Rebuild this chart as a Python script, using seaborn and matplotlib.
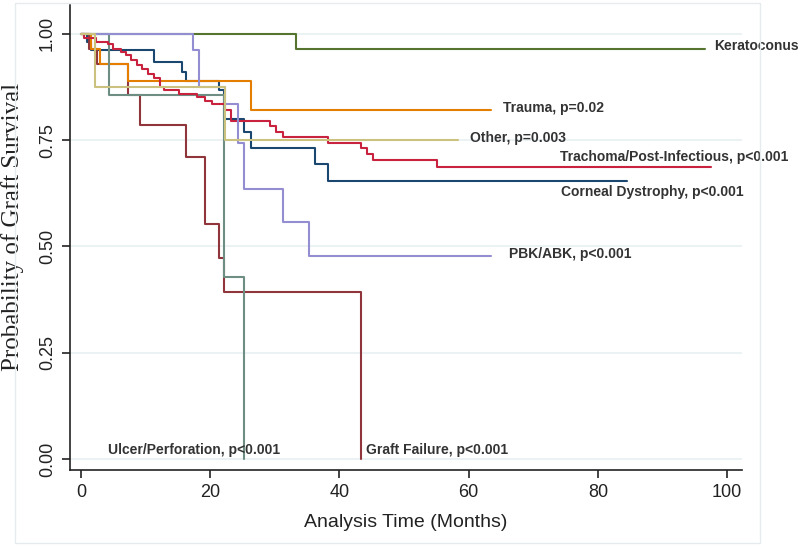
import matplotlib
matplotlib.use("Agg")
import pandas as pd
import matplotlib.pyplot as plt
import seaborn as sns
from matplotlib.patches import Rectangle

# Kaplan-Meier steps (time in months, survival probability)
dystrophy_t = [0, 1.0, 1.6, 11.3, 15.7, 16.3, 21.3, 22.2, 25.3, 26.3, 36.2, 38.3, 84.5]
dystrophy_s = [1.0, 0.980, 0.961, 0.935, 0.911, 0.890, 0.868, 0.799, 0.770, 0.731, 0.694, 0.654, 0.654]

graft_t = [0, 1.3, 2.5, 7.2, 9.2, 16.3, 19.2, 21.3, 22.1, 43.3]
graft_s = [1.0, 0.964, 0.929, 0.857, 0.786, 0.711, 0.552, 0.473, 0.393, 0.0]

kerato_t = [0, 33.3, 96.5]
kerato_s = [1.0, 0.965, 0.965]

trauma_t = [0, 1.6, 3.0, 7.3, 26.3, 63.4]
trauma_s = [1.0, 0.964, 0.929, 0.889, 0.821, 0.821]

ulcer_t = [0, 4.3, 22.1, 25.2]
ulcer_s = [1.0, 0.857, 0.429, 0.0]

trachoma_t = [0, 0.5, 2.3, 4.2, 5.0, 6.2, 7.0, 7.8, 8.6, 9.4, 10.3, 11.3, 12.2, 12.8,
              15.2, 18.0, 19.2, 20.2, 22.3, 23.2, 29.3, 30.2, 31.3, 38.3, 43.3, 44.2,
              45.2, 55.1, 97.5]
trachoma_s = [1.0, 0.990, 0.982, 0.976, 0.964, 0.958, 0.951, 0.939, 0.927, 0.917, 0.906,
              0.896, 0.876, 0.867, 0.859, 0.851, 0.841, 0.835, 0.821, 0.794, 0.784, 0.770,
              0.757, 0.743, 0.731, 0.717, 0.704, 0.688, 0.688]

pbk_t = [0, 17.3, 18.2, 22.3, 24.3, 25.3, 31.3, 35.3, 63.4]
pbk_s = [1.0, 0.961, 0.876, 0.836, 0.743, 0.635, 0.557, 0.478, 0.478]

other_t = [0, 2.1, 22.3, 58.4]
other_s = [1.0, 0.875, 0.750, 0.750]

groups = ["Corneal Dystrophy", "Graft Failure", "Keratoconus", "Trauma",
          "Ulcer/Perforation", "Trachoma/Post-Infectious", "PBK/ABK", "Other"]
colors = ["#1a476f", "#90353b", "#55752f", "#e37e00",
          "#6e8e84", "#c8223f", "#938dd2", "#cac27e"]

labels = ["Corneal Dystrophy, p<0.001", "Graft Failure, p<0.001", "Keratoconus",
          "Trauma, p=0.02", "Ulcer/Perforation, p<0.001",
          "Trachoma/Post-Infectious, p<0.001", "PBK/ABK, p<0.001", "Other, p=0.003"]
label_x = [74.3, 44.1, 98.0, 65.3, 4.2, 74.1, 66.3, 60.2]
label_y = [0.627, 0.020, 0.972, 0.826, 0.022, 0.710, 0.482, 0.754]

series = [(dystrophy_t, dystrophy_s), (graft_t, graft_s), (kerato_t, kerato_s),
          (trauma_t, trauma_s), (ulcer_t, ulcer_s), (trachoma_t, trachoma_s),
          (pbk_t, pbk_s), (other_t, other_s)]

frames = []
for name, (t, s) in zip(groups, series):
    frames.append(pd.DataFrame({"time": t, "surv": s, "group": name}))
df = pd.concat(frames, ignore_index=True)

sns.set_style("ticks")
plt.rcParams['font.family'] = ['Liberation Sans']

W, H = 800, 547
fig = plt.figure(figsize=(8, 5.47), dpi=100)
ax = fig.add_axes([70 / W, 1 - 470 / H, 672 / W, 465 / H])

sns.lineplot(data=df, x="time", y="surv", hue="group", hue_order=groups,
             palette=dict(zip(groups, colors)), estimator=None, sort=False,
             drawstyle="steps-post", linewidth=1.5, legend=False, ax=ax)

for txt, lx, ly in zip(labels, label_x, label_y):
    ax.text(lx, ly, txt, fontsize=10, fontweight="bold", color="#333333",
            ha="left", va="center")

ax.set_xlim(-1.7, 102.3)
ax.set_ylim(-0.026, 1.068)
ax.set_xticks([0, 20, 40, 60, 80, 100])
ax.set_yticks([0, 0.25, 0.5, 0.75, 1.0])
ax.set_yticklabels(["0.00", "0.25", "0.50", "0.75", "1.00"], rotation=90, va="center")

for lab in ax.get_xticklabels() + ax.get_yticklabels():
    lab.set_fontsize(13)
    lab.set_color("#222222")

ax.yaxis.grid(True, color="#e8f0f2", linewidth=1.2)
ax.set_axisbelow(True)
sns.despine(ax=ax)
for sp in ["left", "bottom"]:
    ax.spines[sp].set_color("#222222")
    ax.spines[sp].set_linewidth(1.2)
ax.tick_params(direction="out", length=6, width=1.2, color="#222222", pad=4)

ax.set_xlabel("Analysis Time (Months)", fontsize=14, color="#222222")
ax.xaxis.set_label_coords(0.5, -0.095)
ax.set_ylabel("Probability of Graft Survival", family=['Liberation Serif'], fontsize=18,
              color="#222222")
ax.yaxis.set_label_coords(-0.068, 0.523)

fig.patches.append(Rectangle((15 / W, 4 / H), 745 / W, 540 / H, transform=fig.transFigure,
                             fill=False, edgecolor="#e6ecee", linewidth=1))

fig.savefig("out.png", dpi=100, facecolor="white")
